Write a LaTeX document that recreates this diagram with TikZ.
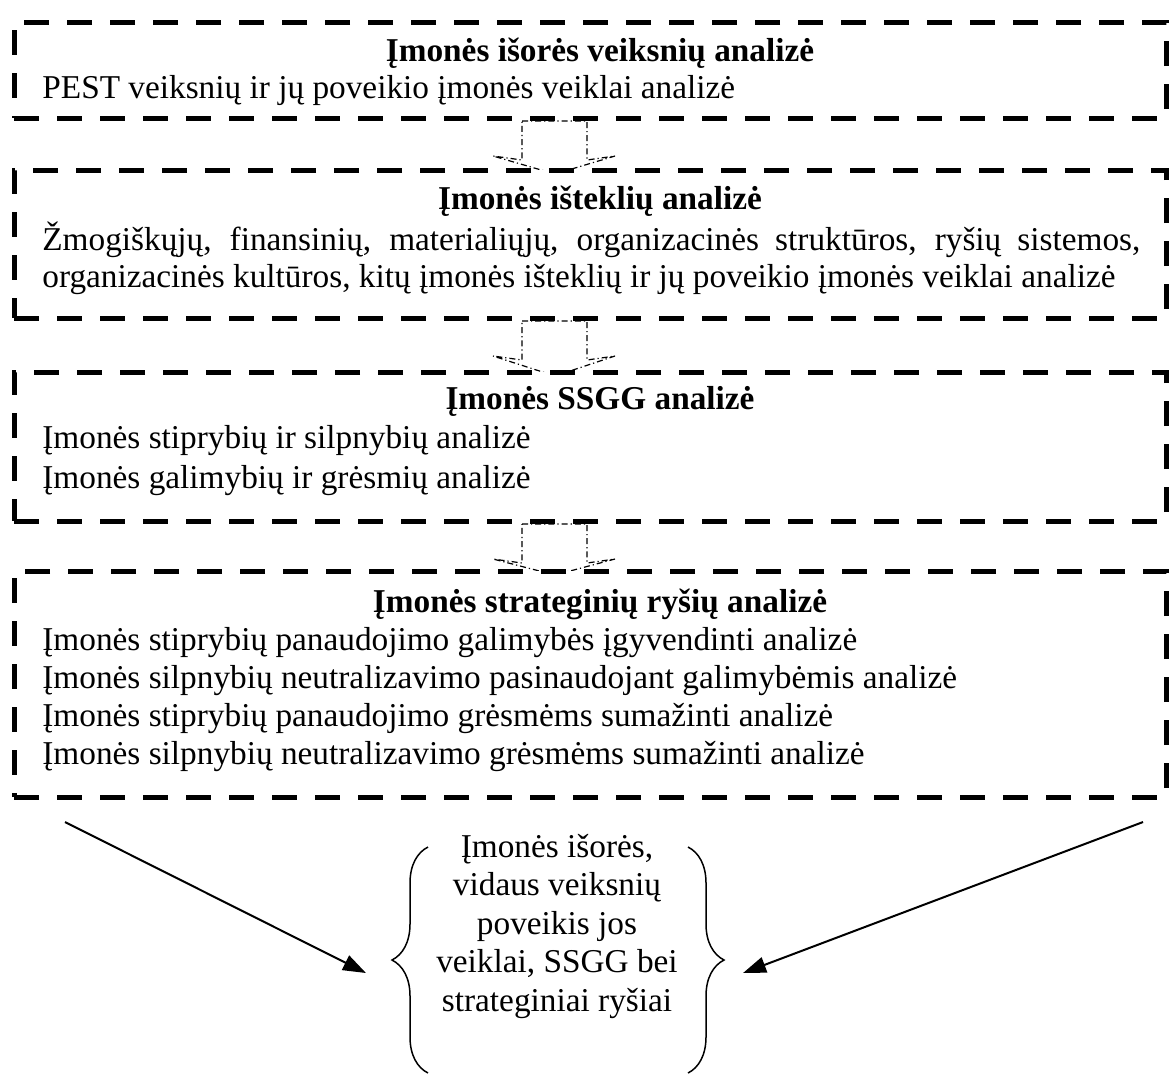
\documentclass[tikz,border=0pt]{standalone}
\usepackage{fontspec}
\setmainfont{Liberation Serif}
\usetikzlibrary{decorations.pathreplacing,arrows.meta,calc,backgrounds}

\begin{document}
\begin{tikzpicture}[x=0.5pt,y=-0.5pt,
  font=\fontsize{16.65}{19}\selectfont,
  stagebox/.style={draw, line width=2.5pt, dash pattern=on 12.5pt off 9pt,
    fill=white, minimum width=576pt, inner sep=0pt, outer sep=0pt},
  head/.style={anchor=base, inner sep=0pt, font=\fontsize{16.65}{19}\selectfont\bfseries},
  body/.style={anchor=base west, inner sep=0pt},
  flow/.style={line width=0.6pt, dash pattern=on 3pt off 1.5pt on 0.6pt off 1.5pt},
  link/.style={line width=1pt, -{Triangle[length=11.5pt,width=8pt]}},
  curly/.style={line width=0.75pt, decorate, decoration={brace, amplitude=18pt}}
]
\useasboundingbox (0,0) rectangle (1170,1083);

% stage frames
\node[stagebox, minimum height=48pt]   (b1) at (590,70)    {};
\node[stagebox, minimum height=74pt]   (b2) at (590,244)   {};
\node[stagebox, minimum height=74.5pt] (b3) at (590,446.5) {};
\node[stagebox, minimum height=113pt]  (b4) at (590,684)   {};

% block arrows between the stages
\coordinate (ax) at (555,0);
\begin{scope}[on background layer]
\foreach \a/\b in {b1/b2,b2/b3,b3/b4}
  \draw[flow] ($(\a.south -| ax)+(-33,3)$) -- ($(\a.south -| ax)+(32,3)$)
    -- ($(\a.south -| ax)+(32,42)$) -- ($(\a.south -| ax)+(60,38)$)
    -- ($(\b.north -| ax)+(0,4)$) -- ($(\a.south -| ax)+(-62,38)$)
    -- ($(\a.south -| ax)+(-33,42)$) -- cycle;
\end{scope}

% stage 1
\node[head] (t1) at (600,61) {Įmonės išorės veiksnių analizė};
\node[body] (l11) at (42,98) {PEST veiksnių ir jų poveikio įmonės veiklai analizė};

% stage 2
\node[head] (t2) at (600,209) {Įmonės išteklių analizė};
\node[body] (l21) at (42,250) {\makebox[549pt][s]{Žmogiškųjų, finansinių, materialiųjų, organizacinės struktūros, ryšių sistemos,}};
\node[body] (l22) at (42,287) {organizacinės kultūros, kitų įmonės išteklių ir jų poveikio įmonės veiklai analizė};

% stage 3
\node[head] (t3) at (600,409) {Įmonės SSGG analizė};
\node[body] (l31) at (42,448) {Įmonės stiprybių ir silpnybių analizė};
\node[body] (l32) at (42,488) {Įmonės galimybių ir grėsmių analizė};

% stage 4
\node[head] (t4) at (600,612) {Įmonės strateginių ryšių analizė};
\node[body] (l41) at (42,650) {Įmonės stiprybių panaudojimo galimybės įgyvendinti analizė};
\node[body] (l42) at (42,688) {Įmonės silpnybių neutralizavimo pasinaudojant galimybėmis analizė};
\node[body] (l43) at (42,726) {Įmonės stiprybių panaudojimo grėsmėms sumažinti analizė};
\node[body] (l44) at (42,764) {Įmonės silpnybių neutralizavimo grėsmėms sumažinti analizė};

% result
\node[align=center, inner sep=0pt, font=\fontsize{16.65}{19.25}\selectfont] (res) at (557,926)
  {Įmonės išorės,\\ vidaus veiksnių\\ poveikis jos\\ veiklai, SSGG bei\\ strateginiai ryšiai};
\coordinate (bl0) at (428,1073);
\coordinate (bl1) at (428,847);
\coordinate (br0) at (688,847);
\coordinate (br1) at (688,1073);
\draw[curly] (bl0) -- (bl1);
\draw[curly] (br0) -- (br1);

\coordinate (la) at (65,822);
\coordinate (lb) at (366,973);
\coordinate (ra) at (1143,822);
\coordinate (rb) at (743,973);
\draw[link] (la) -- (lb);
\draw[link] (ra) -- (rb);
\end{tikzpicture}
\end{document}
